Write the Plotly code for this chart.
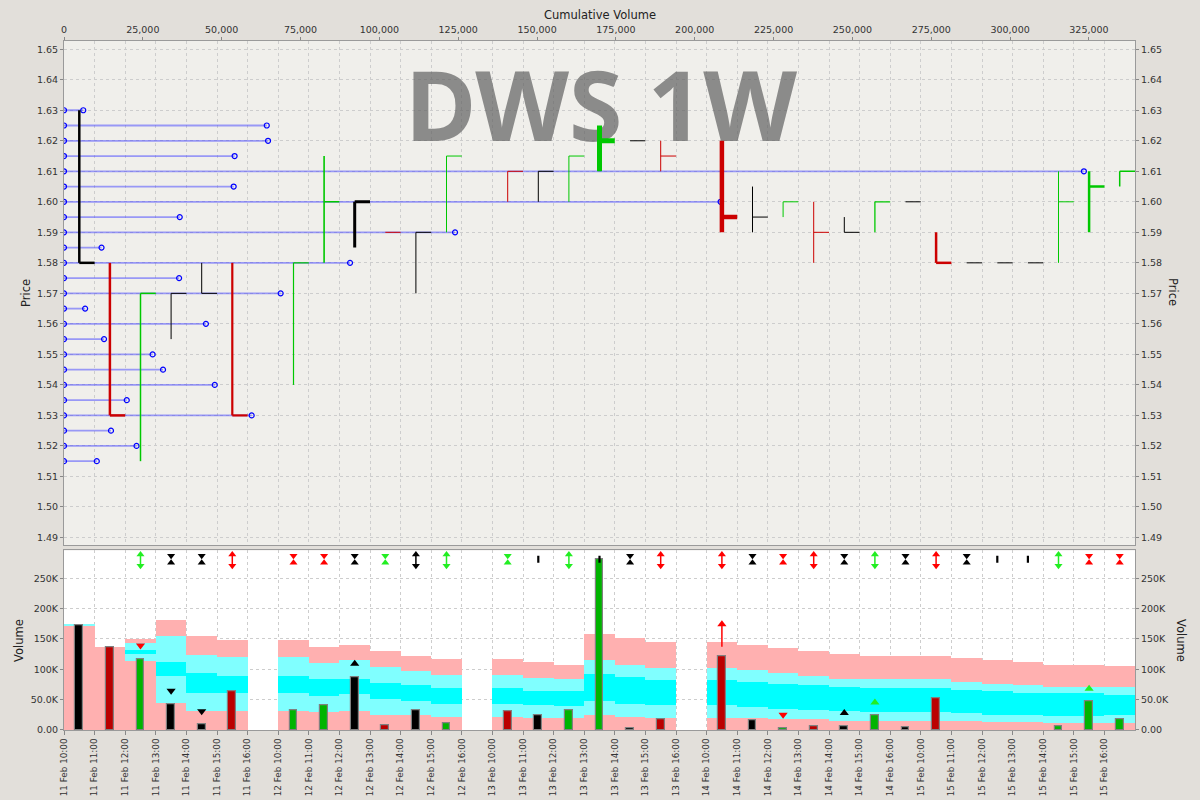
import plotly.graph_objects as go

# ---------------- data ----------------
days = ["11 Feb", "12 Feb", "13 Feb", "14 Feb", "15 Feb"]
hours = ["10:00", "11:00", "12:00", "13:00", "14:00", "15:00", "16:00"]
slot_labels = [f"{d} {h}" for d in days for h in hours]

# bar direction per hourly slot (k = unchanged, r = down, g = up), None = no trading
bar_dir = ['k', 'r', 'g', 'k', 'k', 'r', None,
           'g', 'g', 'k', 'r', 'k', 'g', None,
           'r', 'k', 'g', 'g', 'k', 'r', None,
           'r', 'k', 'g', 'r', 'k', 'g', 'k',
           'r', 'k', 'k', 'k', 'g', 'g', 'g']

# hourly volume (thousands)
vol_k = [173, 137, 117, 43, 9, 63, None,
         33, 40, 87, 7, 32, 11, None,
         31, 24, 32, 282, 2, 17, None,
         121, 16, 2, 6, 6, 25, 4,
         52, 0, 0, 0, 6, 47, 17]

high = [1.63, 1.58, 1.57, 1.57, 1.58, 1.58, None,
        1.58, 1.615, 1.60, 1.59, 1.59, 1.615, None,
        1.61, 1.61, 1.615, 1.625, 1.62, 1.62, None,
        1.62, 1.605, 1.60, 1.60, 1.595, 1.60, 1.60,
        1.59, 1.58, 1.58, 1.58, 1.61, 1.61, 1.61]
low = [1.58, 1.53, 1.515, 1.555, 1.57, 1.53, None,
       1.54, 1.58, 1.585, 1.59, 1.57, 1.59, None,
       1.60, 1.60, 1.60, 1.61, 1.62, 1.61, None,
       1.59, 1.59, 1.595, 1.58, 1.59, 1.59, 1.60,
       1.58, 1.58, 1.58, 1.58, 1.58, 1.59, 1.605]
close = [1.58, 1.53, 1.57, 1.57, 1.57, 1.53, None,
         1.58, 1.60, 1.60, 1.59, 1.59, 1.615, None,
         1.61, 1.61, 1.615, 1.62, 1.62, 1.615, None,
         1.595, 1.595, 1.60, 1.59, 1.59, 1.60, 1.60,
         1.58, 1.58, 1.58, 1.58, 1.60, 1.605, 1.61]

# volume envelope bands (thousands): tops of the 5 stacked bands
band1 = [172, 137, 113, 44, 31, 31, None, 31, 28.5, 30, 25, 24, 21, None,
         21, 20, 19, 23.6, 21, 20, None, 20, 18.6, 17, 17, 15, 14.8, 14.8,
         14.8, 13.7, 12.6, 12, 11.5, 11.5, 11.5]
band2 = [174, 137, 125, 88, 61, 60, None, 60, 56, 59, 50, 46.6, 42, None,
         42, 40, 39, 46.6, 42, 40, None, 40, 37, 34, 32, 30, 29, 29,
         29, 27, 24.7, 23.6, 22, 22, 23.6]
band3 = [174, 137, 130.5, 112, 92.6, 89, None, 89, 83, 84, 77, 73.5, 68, None,
         68, 63, 63, 91, 86, 82, None, 82, 79, 75.6, 73, 70, 68, 68,
         68, 66, 63, 61, 59.8, 60, 57.6]
band4 = [174, 137, 142, 155, 123, 119, None, 119, 110, 114, 102.5, 96.5, 90, None,
         90, 85, 83, 114, 107, 102, None, 102, 97.6, 92.6, 88, 84, 83, 83,
         83, 79, 76, 73.5, 70.7, 70, 70]
band5 = [174, 137, 148.6, 180, 155, 147, None, 147, 137, 139, 129, 122, 115.7, None,
         115.7, 110.7, 107, 158, 151, 144, None, 144, 139, 134, 129, 124.5, 121, 121,
         121, 118, 114, 110.7, 107, 107, 105]

# signal glyphs in the top strip of the volume panel
signal_kind = [None, None, 'dbl', 'hg', 'hg', 'dbl', None,
               'hg', 'hg', 'hg', 'hg', 'dbl', 'dbl', None,
               'hg', 'I', 'dbl', 'I', 'hg', 'dbl', None,
               'dbl', 'hg', 'hg', 'dbl', 'hg', 'dbl', 'hg',
               'dbl', 'hg', 'I', 'I', 'dbl', 'hg', 'hg']
signal_col = [None, None, 'g', 'k', 'k', 'r', None,
              'r', 'r', 'k', 'g', 'k', 'g', None,
              'g', 'k', 'g', 'k', 'k', 'r', None,
              'r', 'k', 'r', 'r', 'k', 'g', 'k',
              'r', 'k', 'k', 'k', 'g', 'r', 'r']

# signals inside the volume area (slot, kind, level in thousands, colour)
inner_slot = [2, 3, 4, 9, 21, 23, 25, 26, 33]
inner_kind = ['down', 'down', 'down', 'up', 'arrow', 'down', 'up', 'up', 'up']
inner_level = [139, 64.7, 30.7, 109, 137, 25, 28, 45.5, 68]
inner_col = ['r', 'k', 'k', 'k', 'r', 'r', 'k', 'g', 'g']

# volume at price (thousands)
vap_price = [1.515, 1.52, 1.525, 1.53, 1.535, 1.54, 1.545, 1.55, 1.555, 1.56,
             1.565, 1.57, 1.575, 1.58, 1.585, 1.59, 1.595, 1.60, 1.605, 1.61,
             1.615, 1.62, 1.625, 1.63]
vap_vol_k = [10.4, 23, 14.9, 59.5, 19.9, 47.8, 31.4, 28.1, 12.7, 45,
             6.7, 68.7, 36.5, 90.7, 11.9, 124, 36.7, 208.2, 53.8, 323.4,
             54.1, 64.7, 64.3, 6.1]

price_ticks = [round(1.49 + 0.01 * i, 2) for i in range(17)]
cum_ticks = list(range(0, 325001, 25000))
vol_tickvals = [0, 50000, 100000, 150000, 200000, 250000]
vol_ticktext = ["0.00", "50.0K", "100K", "150K", "200K", "250K"]

# ---------------- styles ----------------
ohlc_width = [2.5, 2.5, 1.5, 1, 1, 2.2, None,
              1.2, 1.6, 3, 1, 1, 1, None,
              1, 1, 1, 5, 1, 1, None,
              4.5, 1, 1, 1, 1, 1.3, 1,
              2.5, 1, 1, 1, 1, 2.5, 1.5]
OHLC_COL = {'k': '#000000', 'r': '#CC0000', 'g': '#00C800'}
VBAR_COL = {'k': '#000000', 'r': '#BB0000', 'g': '#00B400'}
SIG_COL = {'k': '#000000', 'r': '#FF0000', 'g': '#22EE22'}
PINK, LCYAN, CYAN = '#FFB0B0', '#80FFFF', '#00FFFF'
FONT = "DejaVu Sans"
tickfont = dict(family=FONT, size=9.5, color='#333333')
xtickfont = dict(family=FONT, size=8.8, color='#333333')
grid = dict(showgrid=True, gridcolor='#CDCDCD', griddash='3px,3px', gridwidth=1)

fig = go.Figure()

# ---- top panel: watermark, volume-at-price lines (cumulative volume axis) ----
fig.add_trace(go.Scatter(x=[170300], y=[1.6280], mode='text', text=['DWS 1W'],
                         textfont=dict(family='Noto Sans', size=97, color='rgba(100,100,100,0.72)',
                                       weight='bold'),
                         xaxis='x2', yaxis='y', hoverinfo='skip'))
vx, vy = [], []
for p, v in zip(vap_price, vap_vol_k):
    vx += [0, v * 1000, None]
    vy += [p, p, None]
fig.add_trace(go.Scatter(x=vx, y=vy, mode='lines+markers', xaxis='x2', yaxis='y',
                         line=dict(color='rgba(80,80,255,0.55)', width=1.8),
                         marker=dict(symbol='circle-open', size=5, color='#0000FF',
                                     line=dict(width=1.2, color='#0000FF')),
                         hoverinfo='skip'))

# ---- top panel: price bars on hourly slot axis ----
for k in range(len(slot_labels)):
    if bar_dir[k] is None:
        continue
    c = k + 0.5
    fig.add_trace(go.Scatter(x=[c, c, None, c, k + 1], y=[low[k], high[k], None, close[k], close[k]],
                             mode='lines', xaxis='x3', yaxis='y',
                             line=dict(color=OHLC_COL[bar_dir[k]], width=ohlc_width[k]),
                             hoverinfo='skip'))

# ---- volume panel: envelope bands ----
idx = [k for k in range(len(slot_labels)) if band1[k] is not None]
xs = [k + 0.5 for k in idx]
bands = [([0] * len(idx), [band1[k] for k in idx], PINK),
         ([band1[k] for k in idx], [band2[k] for k in idx], LCYAN),
         ([band2[k] for k in idx], [band3[k] for k in idx], CYAN),
         ([band3[k] for k in idx], [band4[k] for k in idx], LCYAN),
         ([band4[k] for k in idx], [band5[k] for k in idx], PINK)]
for lo, hi, col in bands:
    fig.add_trace(go.Bar(x=xs, y=[(h - l) * 1000 for l, h in zip(lo, hi)],
                         base=[l * 1000 for l in lo], width=1.0,
                         marker=dict(color=col, line=dict(width=0)),
                         xaxis='x', yaxis='y2', hoverinfo='skip'))

# ---- volume bars ----
vb = [k for k in range(len(slot_labels)) if vol_k[k]]
fig.add_trace(go.Bar(x=[k + 0.5 for k in vb], y=[vol_k[k] * 1000 for k in vb], width=0.25,
                     marker=dict(color=[VBAR_COL[bar_dir[k]] for k in vb],
                                 line=dict(color='#808080', width=1.2)),
                     xaxis='x', yaxis='y2', hoverinfo='skip'))

# ---- signal glyphs (top strip) ----
for kind in ['dbl', 'hg', 'I']:
    for ck in ['k', 'r', 'g']:
        ks = [k for k in range(len(slot_labels)) if signal_kind[k] == kind and signal_col[k] == ck]
        if not ks:
            continue
        col = SIG_COL[ck]
        cx = [k + 0.5 for k in ks]
        if kind == 'dbl':
            lx, ly = [], []
            for k in ks:
                lx += [k + 0.5, k + 0.5, None]
                ly += [272000, 288000, None]
            fig.add_trace(go.Scatter(x=lx, y=ly, mode='lines', line=dict(color=col, width=1.5),
                                     xaxis='x', yaxis='y2', hoverinfo='skip'))
            fig.add_trace(go.Scatter(x=cx, y=[289300] * len(ks), mode='markers',
                                     marker=dict(symbol='triangle-up', size=7, color=col, line=dict(width=0)),
                                     xaxis='x', yaxis='y2', hoverinfo='skip'))
            fig.add_trace(go.Scatter(x=cx, y=[270700] * len(ks), mode='markers',
                                     marker=dict(symbol='triangle-down', size=7, color=col, line=dict(width=0)),
                                     xaxis='x', yaxis='y2', hoverinfo='skip'))
        elif kind == 'hg':
            fig.add_trace(go.Scatter(x=cx, y=[287000] * len(ks), mode='markers',
                                     marker=dict(symbol='triangle-down', size=7, color=col, line=dict(width=0)),
                                     xaxis='x', yaxis='y2', hoverinfo='skip'))
            fig.add_trace(go.Scatter(x=cx, y=[275500] * len(ks), mode='markers',
                                     marker=dict(symbol='triangle-up', size=7, color=col, line=dict(width=0)),
                                     xaxis='x', yaxis='y2', hoverinfo='skip'))
        else:
            lx, ly = [], []
            for k in ks:
                lx += [k + 0.5, k + 0.5, None]
                ly += [275500, 287000, None]
            fig.add_trace(go.Scatter(x=lx, y=ly, mode='lines', line=dict(color=col, width=2.2),
                                     xaxis='x', yaxis='y2', hoverinfo='skip'))

# ---- signals inside volume area ----
for s, kind, lev, ck in zip(inner_slot, inner_kind, inner_level, inner_col):
    col = SIG_COL[ck]
    if kind == 'arrow':
        fig.add_trace(go.Scatter(x=[s + 0.5, s + 0.5], y=[lev * 1000, (lev + 36) * 1000], mode='lines',
                                 line=dict(color=col, width=1.5), xaxis='x', yaxis='y2', hoverinfo='skip'))
        fig.add_trace(go.Scatter(x=[s + 0.5], y=[(lev + 37) * 1000], mode='markers',
                                 marker=dict(symbol='triangle-up', size=8, color=col, line=dict(width=0)),
                                 xaxis='x', yaxis='y2', hoverinfo='skip'))
    else:
        sym = 'triangle-up' if kind == 'up' else 'triangle-down'
        fig.add_trace(go.Scatter(x=[s + 0.5], y=[lev * 1000], mode='markers',
                                 marker=dict(symbol=sym, size=8, color=col, line=dict(width=0)),
                                 xaxis='x', yaxis='y2', hoverinfo='skip'))

# invisible traces so the right-hand mirror axes get drawn
fig.add_trace(go.Scatter(x=[0], y=[1.5], mode='markers', marker=dict(opacity=0),
                         xaxis='x2', yaxis='y3', hoverinfo='skip'))
fig.add_trace(go.Scatter(x=[0], y=[0], mode='markers', marker=dict(opacity=0),
                         xaxis='x', yaxis='y4', hoverinfo='skip'))

TOP_DOM = [0.2681, 1.0]
VOL_DOM = [0.0, 0.2608]
AXLINE = '#9A9A9A'
PRICE_RANGE = [1.48744, 1.6527]
VOL_RANGE = [0, 296000]

fig.update_layout(
    width=1200, height=800,
    margin=dict(l=64, r=65, t=41, b=70, pad=0),
    paper_bgcolor='#E2DFDA', plot_bgcolor='#FFFFFF',
    showlegend=False, barmode='overlay', bargap=0,
    xaxis=dict(domain=[0, 1], anchor='y2', range=[0, 35], tickmode='array',
               tickvals=list(range(35)), ticktext=slot_labels, tickangle=-90,
               ticks='outside', ticklen=4, tickcolor='#888888', tickfont=xtickfont,
               showline=True, linecolor=AXLINE, mirror=True, zeroline=False,
               automargin=False, **grid),
    yaxis2=dict(domain=VOL_DOM, anchor='x', range=VOL_RANGE, tickmode='array',
                tickvals=vol_tickvals, ticktext=vol_ticktext, ticks='outside', ticklen=3,
                tickcolor='#888888', tickfont=tickfont, showline=True, linecolor=AXLINE,
                mirror=True, zeroline=False, automargin=False, **grid),
    yaxis4=dict(overlaying='y2', side='right', anchor='x', range=VOL_RANGE, tickmode='array',
                tickvals=vol_tickvals, ticktext=vol_ticktext, ticks='outside', ticklen=3,
                tickcolor='#888888', tickfont=tickfont, showgrid=False, zeroline=False,
                showline=False, automargin=False),
    xaxis2=dict(domain=[0, 1], anchor='y', side='top', range=[0, 339600], tickmode='array',
                tickvals=cum_ticks, tickformat=',', ticks='outside', ticklen=3,
                tickcolor='#888888', tickfont=tickfont, showgrid=False, zeroline=False,
                showline=True, linecolor=AXLINE, mirror=True, automargin=False),
    xaxis3=dict(overlaying='x2', anchor='y', range=[0, 35], tickmode='array',
                tickvals=list(range(35)), showticklabels=False, ticks='', zeroline=False,
                showline=False, automargin=False, **grid),
    yaxis=dict(domain=TOP_DOM, anchor='x2', range=PRICE_RANGE, tickmode='array',
               tickvals=price_ticks, tickformat='.2f', ticks='outside', ticklen=3,
               tickcolor='#888888', tickfont=tickfont, showline=True, linecolor=AXLINE,
               mirror=True, zeroline=False, automargin=False, **grid),
    yaxis3=dict(overlaying='y', side='right', anchor='x2', range=PRICE_RANGE,
                tickmode='array', tickvals=price_ticks, tickformat='.2f', ticks='outside',
                ticklen=3, tickcolor='#888888', tickfont=tickfont, showgrid=False,
                zeroline=False, showline=False, automargin=False),
    shapes=[dict(type='rect', xref='paper', yref='paper', x0=0, x1=1, y0=TOP_DOM[0], y1=TOP_DOM[1],
                 fillcolor='#F0EFEB', line=dict(width=0), layer='below')],
)

title_font = dict(family=FONT, size=11.5, color='#222222')
H, L, B, PW, PH = 800, 64, 70, 1071, 689


def to_paper(xp, yp):
    return (xp - L) / PW, (H - B - yp) / PH


annots = [("Cumulative Volume", 600, 15, 0), ("Price", 26, 293, -90), ("Volume", 19, 640, -90),
          ("Price", 1173, 292, 90), ("Volume", 1181, 640, 90)]
for txt, xx, yy, ang in annots:
    ax, ay = to_paper(xx, yy)
    fig.add_annotation(text=txt, x=ax, y=ay, xref='paper', yref='paper', showarrow=False,
                       textangle=ang, font=title_font, xanchor='center', yanchor='middle')

fig.write_html("out.html")
